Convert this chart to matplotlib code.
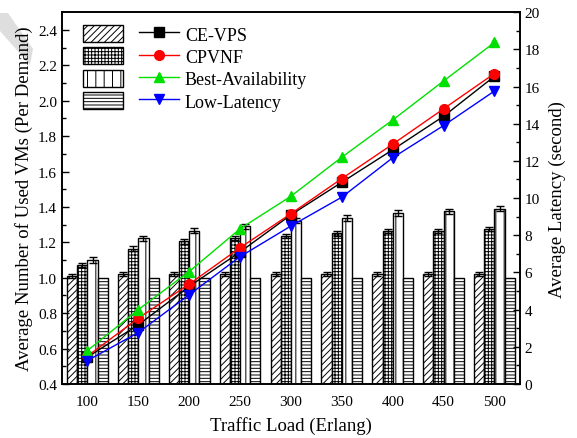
import numpy as np
import matplotlib
matplotlib.use("Agg")
import matplotlib.pyplot as plt
from matplotlib.patches import Patch, Polygon

plt.rcParams['font.family'] = ['Liberation Serif', 'DejaVu Serif']
plt.rcParams['hatch.linewidth'] = 0.7

# traffic load (Erlang)
loads = [100, 150, 200, 250, 300, 350, 400, 450, 500]
methods = ['CE-VPS', 'CPVNF', 'Best-Availability', 'Low-Latency']

# average number of used VMs per demand (left axis, bars)
vms_ce_vps = [1.01, 1.02, 1.02, 1.02, 1.02, 1.02, 1.02, 1.02, 1.02]
vms_cpvnf = [1.07, 1.165, 1.205, 1.225, 1.237, 1.25, 1.262, 1.265, 1.275]
vms_best = [1.10, 1.222, 1.265, 1.29, 1.322, 1.337, 1.366, 1.375, 1.39]
vms_low = [1.0, 1.0, 1.0, 1.0, 1.0, 1.0, 1.0, 1.0, 1.0]
err_ce_vps = [0.01] * 9
err_cpvnf = [0.012] * 9
err_best = [0.015] * 9

# average latency in seconds (right axis, lines)
lat_ce_vps = [1.45, 3.18, 5.25, 7.1, 9.1, 10.85, 12.6, 14.4, 16.55]
lat_cpvnf = [1.5, 3.54, 5.37, 7.33, 9.16, 11.05, 12.9, 14.8, 16.7]
lat_best = [1.8, 4.0, 6.05, 8.35, 10.1, 12.2, 14.2, 16.3, 18.37]
lat_low = [1.26, 2.77, 4.8, 6.85, 8.5, 10.05, 12.17, 13.9, 15.76]

bar_sets = [vms_ce_vps, vms_cpvnf, vms_best, vms_low]
err_sets = [err_ce_vps, err_cpvnf, err_best, None]
hatches = ['/////', '+++++', '||', '-----']
lat_sets = [lat_ce_vps, lat_cpvnf, lat_best, lat_low]
colors = ['black', 'red', '#00e000', 'blue']
markers = ['s', 'o', '^', 'v']

fig = plt.figure(figsize=(5.77, 4.39), dpi=100)
ax = fig.add_axes([0.1075, 0.123, 0.7935, 0.847])

x = np.array(loads)
width = 10
offsets = [-15, -5, 5, 15]
patches = []
for vals, err, h, off in zip(bar_sets, err_sets, hatches, offsets):
    ax.bar(x + off, vals, width=width, color='white',
           edgecolor='black', linewidth=1.0, hatch=h,
           yerr=err, error_kw=dict(ecolor='black', elinewidth=1.0, capsize=3, capthick=1.0))
    patches.append(Patch(facecolor='white', edgecolor='black', hatch=h, linewidth=1.0))

ax.set_xlim(75, 525)
ax.set_ylim(0.4, 2.5)
ax.set_xticks(loads)
ax.set_yticks(np.arange(0.4, 2.41, 0.2))
ax.set_yticks(np.arange(0.5, 2.5, 0.2), minor=True)
ax.yaxis.set_major_formatter(matplotlib.ticker.FormatStrFormatter('%.1f'))
ax.tick_params(axis='y', direction='in', length=5, width=1, labelsize=11)
ax.tick_params(axis='y', which='minor', direction='in', length=3, width=1)
ax.tick_params(axis='x', length=0, labelsize=11, pad=8)
ax.set_xlabel('Traffic Load (Erlang)', fontsize=13.5, labelpad=6)
ax.set_ylabel('Average Number of Used VMs (Per Demand)', fontsize=13.5, labelpad=4)
for s in ax.spines.values():
    s.set_linewidth(1.2)

ax2 = ax.twinx()
lines = []
for vals, c, m, name in zip(lat_sets, colors, markers, methods):
    ln, = ax2.plot(loads, vals, color=c, marker=m, markersize=7, linewidth=1.0,
                   markeredgecolor=c, label=name)
    lines.append(ln)
ax2.set_ylim(0, 20)
ax2.set_yticks(np.arange(0, 21, 2))
ax2.set_yticks(np.arange(1, 20, 2), minor=True)
ax2.tick_params(axis='y', direction='in', length=5, width=1, labelsize=11)
ax2.tick_params(axis='y', which='minor', direction='in', length=3, width=1)
ax2.set_ylabel('Average Latency (second)', fontsize=13.5, labelpad=6)
for s in ax2.spines.values():
    s.set_linewidth(1.2)

# legend: hatch swatches in one column, line samples with names in the next
handles = patches + lines
labels = [''] * 4 + methods
ax2.legend(handles, labels, ncol=2, loc='upper left', bbox_to_anchor=(0.01, 1.01),
           frameon=False, fontsize=13, handlelength=2.2, handleheight=1.1,
           labelspacing=0.2, handletextpad=0.35, columnspacing=0.55)

# grey corner mark from the source image
fig.patches.append(Polygon([[0, 1 - 14 / 439], [8 / 577, 1 - 14 / 439], [33 / 577, 1 - 50 / 439],
                            [30 / 577, 1 - 66 / 439], [0, 1 - 32 / 439]],
                           closed=True, transform=fig.transFigure, facecolor='#dedede',
                           edgecolor='none', zorder=-1))

fig.savefig('out.png', dpi=100)
